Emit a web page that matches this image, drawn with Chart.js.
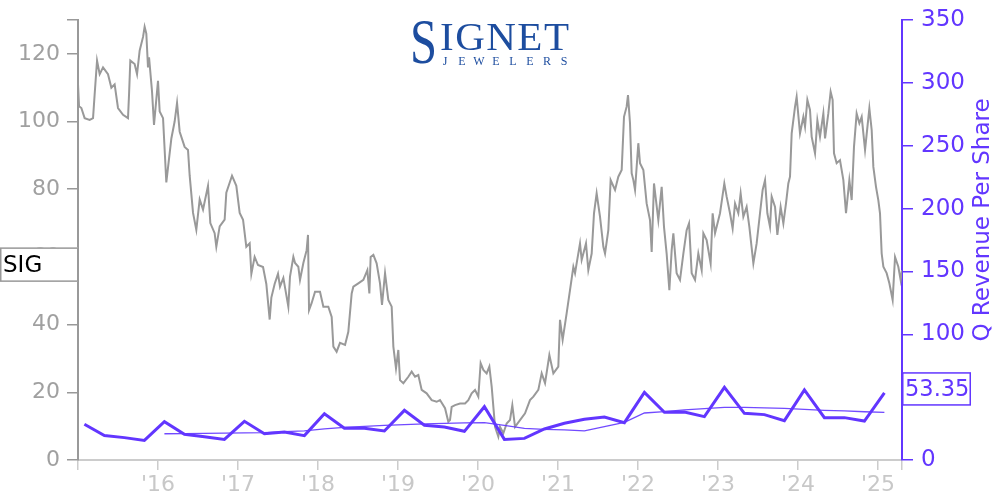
<!DOCTYPE html>
<html>
<head>
<meta charset="utf-8">
<title>SIG price vs quarterly revenue per share</title>
<script src="https://cdn.jsdelivr.net/npm/chart.js@4.4.1/dist/chart.umd.min.js"></script>
<style>
  html, body { margin: 0; padding: 0; background: #fff; }
  #wrap { position: relative; width: 1000px; height: 500px; }
</style>
</head>
<body>
<div id="wrap"><canvas id="chart" width="1000" height="500"></canvas></div>
<script>
// SIG share price (left axis) against quarterly revenue per share (right axis)

var PURPLE = "#6236ff";
var FONT = "'DejaVu Sans', sans-serif";

// Daily-ish closing price (decimal year, USD)
var priceYears = [
  2015.000, 2015.013, 2015.042, 2015.083, 2015.146, 2015.188, 2015.208, 2015.238, 2015.271, 2015.313,
  2015.375, 2015.417, 2015.458, 2015.500, 2015.563, 2015.625, 2015.638, 2015.654, 2015.708, 2015.738,
  2015.771, 2015.813, 2015.833, 2015.854, 2015.875, 2015.888, 2015.925, 2015.950, 2016.000, 2016.021,
  2016.063, 2016.104, 2016.133, 2016.167, 2016.208, 2016.238, 2016.271, 2016.333, 2016.375, 2016.396,
  2016.438, 2016.479, 2016.521, 2016.563, 2016.625, 2016.654, 2016.708, 2016.729, 2016.771, 2016.833,
  2016.854, 2016.925, 2016.979, 2017.021, 2017.063, 2017.104, 2017.146, 2017.167, 2017.208, 2017.250,
  2017.313, 2017.354, 2017.396, 2017.417, 2017.458, 2017.500, 2017.525, 2017.567, 2017.608, 2017.629,
  2017.650, 2017.692, 2017.713, 2017.754, 2017.775, 2017.817, 2017.858, 2017.875, 2017.888, 2017.921,
  2017.963, 2018.025, 2018.067, 2018.129, 2018.171, 2018.192, 2018.233, 2018.275, 2018.338, 2018.379,
  2018.421, 2018.442, 2018.504, 2018.567, 2018.617, 2018.642, 2018.658, 2018.692, 2018.733, 2018.775,
  2018.800, 2018.838, 2018.879, 2018.921, 2018.942, 2018.975, 2019.004, 2019.025, 2019.067, 2019.129,
  2019.171, 2019.213, 2019.254, 2019.296, 2019.358, 2019.421, 2019.483, 2019.525, 2019.588, 2019.629,
  2019.650, 2019.671, 2019.713, 2019.775, 2019.838, 2019.879, 2019.921, 2019.963, 2020.004, 2020.033,
  2020.067, 2020.108, 2020.142, 2020.171, 2020.213, 2020.254, 2020.275, 2020.317, 2020.358, 2020.400,
  2020.429, 2020.463, 2020.525, 2020.588, 2020.650, 2020.692, 2020.754, 2020.796, 2020.838, 2020.892,
  2020.942, 2021.004, 2021.025, 2021.058, 2021.108, 2021.150, 2021.192, 2021.213, 2021.233, 2021.275,
  2021.296, 2021.350, 2021.379, 2021.421, 2021.450, 2021.483, 2021.525, 2021.567, 2021.588, 2021.629,
  2021.658, 2021.713, 2021.754, 2021.796, 2021.825, 2021.858, 2021.875, 2021.900, 2021.921, 2021.942,
  2021.963, 2022.004, 2022.025, 2022.067, 2022.108, 2022.150, 2022.171, 2022.200, 2022.254, 2022.296,
  2022.325, 2022.358, 2022.392, 2022.421, 2022.442, 2022.483, 2022.525, 2022.567, 2022.608, 2022.638,
  2022.671, 2022.713, 2022.754, 2022.796, 2022.817, 2022.858, 2022.908, 2022.933, 2022.963, 2023.025,
  2023.079, 2023.108, 2023.150, 2023.183, 2023.213, 2023.254, 2023.283, 2023.317, 2023.358, 2023.392,
  2023.442, 2023.483, 2023.525, 2023.558, 2023.588, 2023.617, 2023.650, 2023.671, 2023.713, 2023.742,
  2023.783, 2023.817, 2023.850, 2023.879, 2023.900, 2023.921, 2023.963, 2023.983, 2024.025, 2024.067,
  2024.088, 2024.117, 2024.150, 2024.171, 2024.213, 2024.242, 2024.275, 2024.317, 2024.338, 2024.379,
  2024.408, 2024.433, 2024.450, 2024.483, 2024.525, 2024.567, 2024.600, 2024.642, 2024.671, 2024.700,
  2024.733, 2024.767, 2024.796, 2024.838, 2024.892, 2024.921, 2024.942, 2024.975, 2025.004, 2025.025,
  2025.046, 2025.067, 2025.108, 2025.142, 2025.183, 2025.213, 2025.254, 2025.283, 2025.300
];
var priceValues = [
  111, 104.5, 104, 101, 100.5, 101, 108, 118, 114, 116,
  114, 110, 111, 104, 102, 101, 108, 118, 117, 114,
  121, 125, 128, 126, 116, 119, 109, 99, 112, 103,
  101, 82, 88, 95, 100, 105.5, 97, 92.5, 91.6, 84,
  73, 68, 77, 74, 81, 70, 67, 63, 69, 71,
  79, 84, 81, 73, 71, 63, 64, 55, 60, 57.6,
  57, 52, 41.5, 48, 52, 55, 51.2, 53.8, 48.2, 45.3,
  54.2, 60, 58.2, 57.1, 53.2, 58.2, 62, 66.5, 44.3, 46.4,
  49.7, 49.7, 45.3, 45.3, 42.3, 33.5, 32, 34.6, 34, 37.9,
  49.2, 51.2, 52.2, 53.2, 56.1, 49.2, 60, 60.6, 58.1, 52.2,
  45.8, 55.2, 47.3, 45.3, 33.5, 27.1, 32.5, 23.6, 22.7, 24.6,
  26.1, 24.6, 25.1, 20.7, 19.7, 17.7, 17.2, 17.7, 15.3, 11.3,
  11.8, 15.7, 16.2, 16.7, 16.7, 17.7, 19.7, 20.7, 18.7, 28.6,
  26.6, 25.6, 27.6, 21.7, 9.8, 6.9, 9.8, 7.9, 10.8, 11.8,
  16.2, 9.8, 11.8, 13.8, 17.7, 18.7, 20.7, 25.6, 22.7, 31,
  25.6, 27.6, 41.4, 35.5, 43.3, 50.2, 57.1, 55.2, 58.1, 64,
  59.1, 64, 56.1, 61, 72.9, 78.8, 71.9, 63, 61, 67.9,
  82.7, 79.8, 83.7, 85.7, 101.4, 104.4, 107.8, 99.5, 84.7, 82.7,
  79.8, 93.6, 87.7, 85.7, 75.8, 70.9, 61.5, 81.7, 70.9, 80.7,
  68.9, 61, 50.2, 62, 67, 55.2, 53.2, 61, 67.9, 69.9,
  55.2, 53.2, 61, 56.1, 67, 65, 58.1, 72.9, 67, 72.9,
  81.7, 77.8, 72.9, 68.4, 75.8, 72.9, 78.8, 71.9, 74.8, 68.9,
  58.1, 64, 72.9, 79.8, 82.7, 72.9, 68.9, 77.8, 74.8, 66.5,
  74.8, 69.9, 75.8, 81.7, 83.7, 96.5, 104.4, 107.3, 96.5, 101.4,
  98.5, 106.4, 103.4, 95.5, 90.6, 100.4, 95.5, 102.4, 95, 102.4,
  108.8, 106.4, 90.6, 87.7, 88.6, 82.7, 72.9, 82.7, 76.8, 92.6,
  102.4, 99.5, 101.4, 91.6, 103.9, 97.5, 86.6, 80.7, 76.8, 72.9,
  61, 57.1, 55.2, 52.2, 47.3, 60, 57.1, 53.2, 56.1
];

// Quarterly revenue per share (fiscal quarter ends, decimal year)
var revYears = [
  2015.08, 2015.33, 2015.58, 2015.83, 2016.08, 2016.33, 2016.58, 2016.83, 2017.08, 2017.33,
  2017.58, 2017.83, 2018.08, 2018.33, 2018.58, 2018.83, 2019.08, 2019.33, 2019.58, 2019.83,
  2020.08, 2020.33, 2020.58, 2020.83, 2021.08, 2021.33, 2021.58, 2021.83, 2022.08, 2022.33,
  2022.58, 2022.83, 2023.08, 2023.33, 2023.58, 2023.83, 2024.08, 2024.33, 2024.58, 2024.83,
  2025.08
];
var revValues = [
  28.4, 19.4, 17.8, 15.6, 30.5, 20.4, 18.5, 16.4, 30.8, 20.9,
  22.3, 19.4, 36.8, 25.2, 25.2, 23.1, 39.5, 27.6, 26.3, 22.8,
  42.4, 16.4, 17.2, 24.7, 29.2, 32.4, 34.2, 29.7, 53.8, 37.9,
  38.2, 34.5, 57.8, 37.1, 36.1, 31.3, 55.7, 33.7, 33.7, 31.0,
  53.35
];

// Trailing average of revenue per share (thin line)
var avgYears = [
  2016.08, 2016.33, 2016.58, 2016.83, 2017.08, 2017.33, 2017.58, 2017.83, 2018.08, 2018.33,
  2018.58, 2018.83, 2019.08, 2019.33, 2019.58, 2019.83, 2020.08, 2020.33, 2020.58, 2020.83,
  2021.08, 2021.33, 2021.58, 2021.83, 2022.08, 2022.33, 2022.58, 2022.83, 2023.08, 2023.33,
  2023.58, 2023.83, 2024.08, 2024.33, 2024.58, 2024.83, 2025.08
];
var avgValues = [
  20.9, 21.0, 21.2, 21.4, 21.5, 21.7, 22.5, 23.2, 24.8, 25.9,
  26.7, 27.5, 28.2, 28.8, 29.2, 29.5, 29.8, 27.6, 25.2, 24.4,
  23.9, 23.1, 26.5, 30.0, 37.4, 38.4, 39.8, 40.8, 41.9, 41.9,
  41.5, 41.1, 40.3, 39.5, 39.0, 38.4, 37.9
];

// Axis ticks
var xTickValues = [2015, 2016, 2017, 2018, 2019, 2020, 2021, 2022, 2023, 2024, 2025, 2025.30];
var xTickLabels = ["", "'16", "'17", "'18", "'19", "'20", "'21", "'22", "'23", "'24", "'25", ""];
var priceTickValues = [0, 20, 40, 60, 80, 100, 120, 130];
var priceTickLabels = ["0", "20", "40", "60", "80", "100", "120", ""];
var revTickValues = [0, 50, 100, 150, 200, 250, 300, 350];

function toPoints(xs, ys) {
  return xs.map(function (x, i) { return { x: x, y: ys[i] }; });
}

function setTicks(values) {
  return function (scale) {
    scale.ticks = values.map(function (v) { return { value: v }; });
  };
}

// fixed axis box sizes so the plot area sits where the picture has it
function fixSize(prop, size) {
  return function (scale) {
    scale[prop] = size;
    scale.paddingTop = 0;
    scale.paddingBottom = 0;
    scale.paddingLeft = 0;
    scale.paddingRight = 0;
  };
}

// Logo, end-value tags and the right axis title
var overlayPlugin = {
  id: "overlays",
  afterDraw: function (chart) {
    var ctx = chart.ctx;
    var yP = chart.scales.yPrice;
    var yR = chart.scales.yRev;
    ctx.save();

    // SIG tag on the left axis
    var lastPrice = priceValues[priceValues.length - 1];
    var py = yP.getPixelForValue(lastPrice) - 5.5;
    ctx.fillStyle = "#fff";
    ctx.fillRect(0, py - 17, 78, 34);
    ctx.strokeStyle = "#999";
    ctx.lineWidth = 1.5;
    ctx.strokeRect(0.75, py - 16.5, 77, 33);
    ctx.fillStyle = "#000";
    ctx.font = "23px " + FONT;
    ctx.textAlign = "left";
    ctx.textBaseline = "middle";
    ctx.fillText("SIG", 3, py + 1);

    // last revenue tag on the right axis
    var lastRev = revValues[revValues.length - 1];
    var ry = yR.getPixelForValue(lastRev) - 4;
    ctx.fillStyle = "#fff";
    ctx.fillRect(902, ry - 16, 68, 32);
    ctx.strokeStyle = PURPLE;
    ctx.lineWidth = 1.5;
    ctx.strokeRect(902.75, ry - 16, 67.5, 32);
    ctx.fillStyle = PURPLE;
    ctx.font = "22.5px " + FONT;
    ctx.fillText(lastRev.toFixed(2), 905, ry + 1);

    // right axis title, reading bottom to top
    ctx.translate(983, 220);
    ctx.rotate(-Math.PI / 2);
    ctx.textAlign = "center";
    ctx.font = "23px " + FONT;
    ctx.fillText("Q Revenue Per Share", 0, 0);
    ctx.setTransform(1, 0, 0, 1, 0, 0);

    // Signet Jewelers wordmark
    ctx.fillStyle = "#1d4d9f";
    ctx.textBaseline = "alphabetic";
    ctx.textAlign = "left";
    ctx.save();
    ctx.translate(410, 63);
    ctx.scale(0.76, 1);
    ctx.font = "64px 'Liberation Serif', serif";
    ctx.fillText("S", 0, 0);
    ctx.restore();

    ctx.font = "41px 'Liberation Serif', serif";
    var word = "IGNET";
    var wx = 440;
    for (var i = 0; i < word.length; i++) {
      ctx.fillText(word[i], wx, 50);
      wx += ctx.measureText(word[i]).width + 1.5;
    }

    ctx.font = "12px 'Liberation Serif', serif";
    ctx.textAlign = "center";
    var sub = "JEWELERS";
    for (var j = 0; j < sub.length; j++) {
      ctx.fillText(sub[j], 445 + j * 17, 65);
    }
    ctx.restore();
  }
};

var ctx = document.getElementById("chart").getContext("2d");
new Chart(ctx, {
  type: "line",
  data: {
    datasets: [
      {
        label: "Q Revenue Per Share",
        data: toPoints(revYears, revValues),
        yAxisID: "yRev",
        borderColor: PURPLE,
        borderWidth: 3,
        pointRadius: 0,
        tension: 0,
        order: 0
      },
      {
        label: "Trailing average",
        data: toPoints(avgYears, avgValues),
        yAxisID: "yRev",
        borderColor: "rgba(98, 54, 255, 0.9)",
        borderWidth: 1.3,
        pointRadius: 0,
        tension: 0,
        order: 1
      },
      {
        label: "SIG",
        data: toPoints(priceYears, priceValues),
        yAxisID: "yPrice",
        borderColor: "#999",
        borderWidth: 2,
        pointRadius: 0,
        tension: 0,
        order: 2
      }
    ]
  },
  options: {
    responsive: false,
    animation: false,
    devicePixelRatio: 1,
    layout: { padding: { top: 20, left: 0, right: 0, bottom: 0 } },
    plugins: {
      legend: { display: false },
      tooltip: { enabled: false }
    },
    scales: {
      x: {
        type: "linear",
        min: 2015,
        max: 2025.30,
        afterBuildTicks: setTicks(xTickValues),
        afterFit: fixSize("height", 40),
        grid: { drawOnChartArea: false, tickLength: 10, color: "#ccc", lineWidth: 1.5 },
        border: { display: true, color: "#ccc", width: 2 },
        ticks: {
          autoSkip: false,
          maxRotation: 0,
          padding: 2,
          color: "#c8c8c8",
          font: { family: FONT, size: 22 },
          callback: function (v, i) { return xTickLabels[i]; }
        }
      },
      yPrice: {
        type: "linear",
        position: "left",
        min: 0,
        max: 130,
        afterBuildTicks: setTicks(priceTickValues),
        afterFit: fixSize("width", 78),
        grid: { drawOnChartArea: false, tickLength: 11, color: "#999", lineWidth: 1.5 },
        border: { display: true, color: "#999", width: 2 },
        ticks: {
          padding: 7,
          color: "#a0a0a0",
          font: { family: FONT, size: 22 },
          callback: function (v, i) { return priceTickLabels[i]; }
        }
      },
      yRev: {
        type: "linear",
        position: "right",
        min: 0,
        max: 350,
        afterBuildTicks: setTicks(revTickValues),
        afterFit: fixSize("width", 98),
        grid: { drawOnChartArea: false, tickLength: 11, color: PURPLE, lineWidth: 1.5 },
        border: { display: true, color: PURPLE, width: 2 },
        ticks: {
          padding: 8,
          color: PURPLE,
          font: { family: FONT, size: 23 }
        }
      }
    }
  },
  plugins: [overlayPlugin]
});
</script>
</body>
</html>
